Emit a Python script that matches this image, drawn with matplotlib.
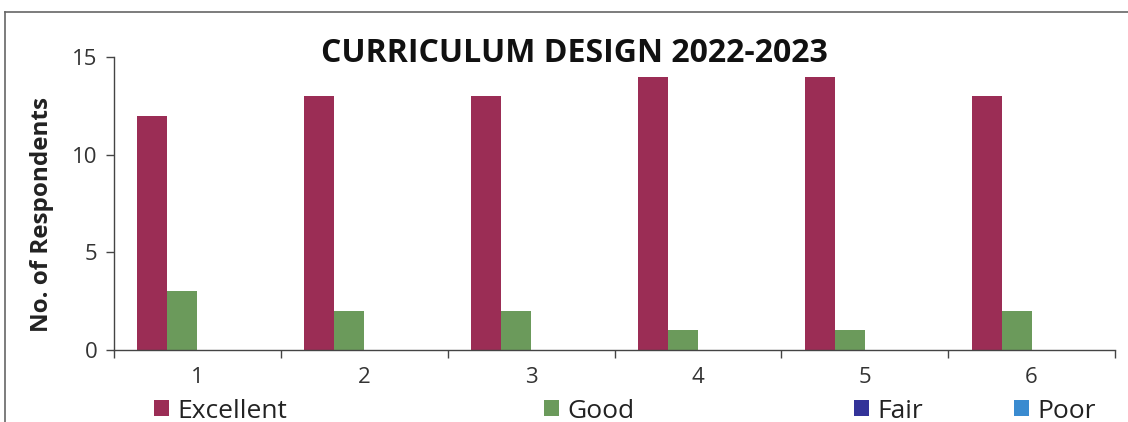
import matplotlib
matplotlib.use("Agg")
import matplotlib.pyplot as plt
from matplotlib.patches import Patch
from matplotlib.lines import Line2D
import numpy as np

categories = ["1", "2", "3", "4", "5", "6"]
series_names = ["Excellent", "Good", "Fair", "Poor"]
excellent = [12, 13, 13, 14, 14, 13]
good = [3, 2, 2, 1, 1, 2]
fair = [0, 0, 0, 0, 0, 0]
poor = [0, 0, 0, 0, 0, 0]
yticks = [0, 5, 10, 15]
title = "CURRICULUM DESIGN 2022-2023"
ylabel = "No. of Respondents"

colors = ["#9B2D55", "#6B9A5B", "#333399", "#3A8BD0"]
font = "Open Sans"

fig = plt.figure(figsize=(11.28, 4.22), dpi=100)
ax = fig.add_axes([114/1128, 1-350/422, (1115-114)/1128, (350-57)/422])

x = np.arange(1, len(categories)+1)
w = 0.18
offsets = [-1.5*w, -0.5*w, 0.5*w, 1.5*w]
data = [excellent, good, fair, poor]
for vals, off, c in zip(data, offsets, colors):
    ax.bar(x + off, vals, width=w, color=c, edgecolor="none")

ax.set_xlim(0.5, len(categories)+0.5)
ax.set_ylim(0, 15)
ax.set_yticks(yticks)
ax.set_yticklabels([str(t) for t in yticks], fontsize=16, family=font, color="#333333")
ax.set_xticks(np.arange(0.5, len(categories)+1, 1.0))
ax.set_xticklabels([])
ax.set_xticks(x, minor=True)
ax.set_xticklabels(categories, minor=True, fontsize=16, family=font, color="#333333")
ax.tick_params(axis="x", which="minor", length=0, pad=12)
ax.tick_params(axis="x", which="major", length=6, width=1, color="#444444", direction="out")
ax.tick_params(axis="y", length=6, width=1, color="#444444", direction="out", pad=6)
for s in ["top", "right"]:
    ax.spines[s].set_visible(False)
for s in ["left", "bottom"]:
    ax.spines[s].set_color("#444444")
    ax.spines[s].set_linewidth(1.0)

ax.set_ylabel(ylabel, fontsize=17.5, fontweight="bold", family=font, color="#222222")
ax.yaxis.set_label_coords((54-114)/1001, (350-215)/293)
fig.text(574/1128, 1-54/422, title, fontsize=23, fontweight="bold", family=font,
         ha="center", va="center", color="#111111")

legend_x = [154, 544, 854, 1014]
for name, c, lx in zip(series_names, colors, legend_x):
    leg = fig.legend(handles=[Patch(facecolor=c, edgecolor="none")], labels=[name],
                     loc="center left", bbox_to_anchor=(lx/1128, 1-411/422),
                     frameon=False, handlelength=0.55, handleheight=0.55, handletextpad=0.35,
                     borderaxespad=0, borderpad=0,
                     prop={"family": font, "size": 19})
    for t in leg.get_texts():
        t.set_color("#222222")

fig.add_artist(Line2D([5/1128, 1], [1-12/422, 1-12/422], transform=fig.transFigure,
                      color="#666666", lw=1.2))
fig.add_artist(Line2D([5/1128, 5/1128], [0, 1-12/422], transform=fig.transFigure,
                      color="#666666", lw=1.2))

fig.savefig("out.png", dpi=100)
